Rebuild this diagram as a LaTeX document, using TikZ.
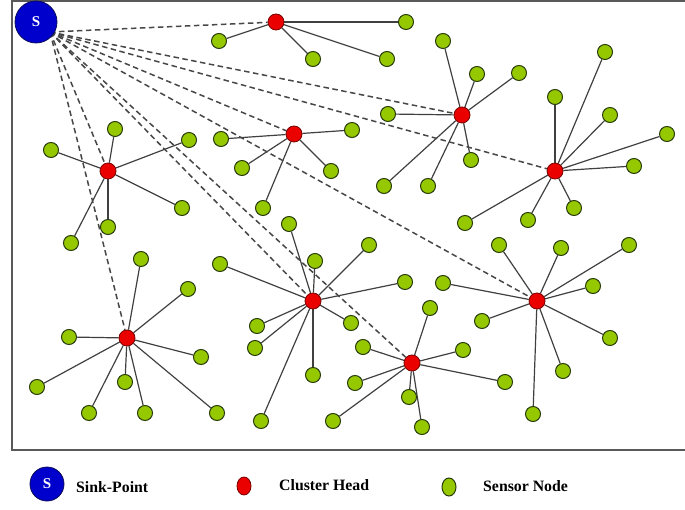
\documentclass[tikz,border=0pt]{standalone}
\usepackage{fontspec}
\setmainfont{Liberation Serif}
\usetikzlibrary{backgrounds,shapes.geometric}
\definecolor{sinkblue}{RGB}{0,0,205}
\definecolor{sinkedge}{RGB}{10,10,90}
\definecolor{headred}{RGB}{235,0,0}
\definecolor{headedge}{RGB}{120,0,0}
\definecolor{sensgreen}{RGB}{150,200,0}
\definecolor{sensedge}{RGB}{40,60,10}
\tikzset{
  sink/.style={circle, fill=sinkblue, draw=sinkedge, line width=0.8pt,
    minimum size=42pt, inner sep=0pt, text=white,
    font=\bfseries\fontsize{15}{15}\selectfont},
  head/.style={circle, fill=headred, draw=headedge, line width=0.8pt,
    minimum size=16pt, inner sep=0pt},
  sensor/.style={circle, fill=sensgreen, draw=sensedge, line width=1pt,
    minimum size=15pt, inner sep=0pt},
  link/.style={draw=black!75, line width=1.2pt},
  uplink/.style={draw=black!72, line width=1.5pt, dash pattern=on 5.5pt off 3.5pt},
  frame/.style={draw=black!65, line width=2pt},
  legendtext/.style={anchor=west, inner sep=0pt,
    font=\bfseries\fontsize{15.8}{16}\selectfont}
}
\begin{document}
\begin{tikzpicture}[x=1pt,y=-1pt]
\useasboundingbox (0,0) rectangle (685,510);
% field border (open on the right)
\draw[frame] (685,1) -- (12,1) -- (12,450) -- (685,450);

% sink and the point its uplinks leave from (hidden under the disc)
\node[sink] (s) at (36,22) {S};
\coordinate (sport) at (50,32);

% cluster heads
\foreach \h/\x/\y in {c1/276/22, c2/294/134, c3/462/115, c4/555/171,
                       c5/108/171, c6/127/338, c7/313/301, c8/412/363, c9/537/301}
  \node[head] (\h) at (\x,\y) {};

% sensor nodes with their links to the cluster head
\foreach \h/\x/\y [count=\k] in {
    c1/406/22, c1/219/41, c1/313/59, c1/387/59,
    c2/352/130, c2/221/139, c2/242/168, c2/331/171, c2/263/208,
    c3/443/41, c3/477/74, c3/519/73, c3/388/114, c3/471/160, c3/428/186, c3/384/186,
    c4/605/52, c4/555/97, c4/610/115, c4/667/134, c4/634/166, c4/574/208, c4/528/220, c4/465/223,
    c5/115/129, c5/51/150, c5/189/140, c5/182/208, c5/108/227, c5/71/243,
    c6/141/259, c6/188/289, c6/69/337, c6/201/357, c6/37/387, c6/125/382, c6/89/413, c6/145/413, c6/217/413,
    c7/289/224, c7/369/245, c7/220/264, c7/315/261, c7/405/282, c7/257/326, c7/351/323, c7/255/348, c7/313/375, c7/261/421,
    c8/430/308, c8/363/347, c8/355/383, c8/333/421, c8/409/397, c8/422/427, c8/463/350, c8/505/382,
    c9/499/245, c9/561/248, c9/629/245, c9/443/283, c9/593/286, c9/482/321, c9/610/338, c9/563/371, c9/533/414}
{
  \node[sensor] (n\k) at (\x,\y) {};
  \begin{scope}[on background layer]
    \draw[link] (\h) -- (n\k);
  \end{scope}
}

% cluster heads report to the sink
\begin{scope}[on background layer]
  \foreach \h in {c1,c2,c3,c4,c5,c6,c7,c8,c9}
    \draw[uplink] (sport) -- (\h);
\end{scope}

% legend
\node[sink, minimum size=34pt] (ls) at (47,484) {S};
\node[legendtext] (lt1) at (76,487) {Sink-Point};
\node[head, ellipse, minimum width=14pt, minimum height=18pt] (lh) at (244,486) {};
\node[legendtext] (lt2) at (279,485) {Cluster Head};
\node[sensor, ellipse, minimum width=14pt, minimum height=18pt] (lsn) at (449,487) {};
\node[legendtext] (lt3) at (483,486) {Sensor Node};
\end{tikzpicture}
\end{document}
